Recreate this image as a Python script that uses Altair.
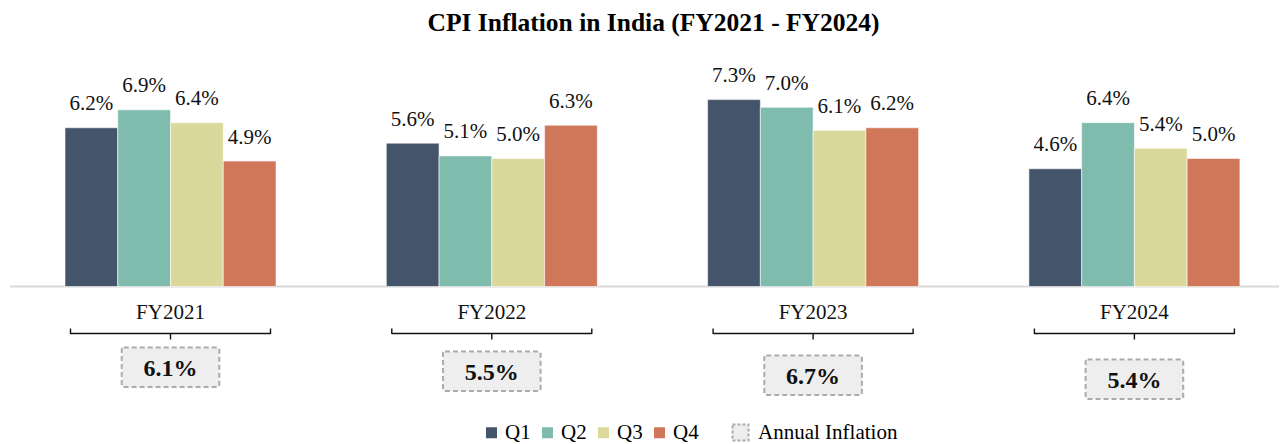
import altair as alt
import pandas as pd

# ---------------- data ----------------
fiscal_years = ["FY2021", "FY2022", "FY2023", "FY2024"]
quarters = ["Q1", "Q2", "Q3", "Q4"]
q1 = [6.2, 5.6, 7.3, 4.6]
q2 = [6.9, 5.1, 7.0, 6.4]
q3 = [6.4, 5.0, 6.1, 5.4]
q4 = [4.9, 6.3, 6.2, 5.0]
annual = [6.1, 5.5, 6.7, 5.4]
colors = ["#44546A", "#7FBCAE", "#DAD89B", "#D0775A"]

# ---------------- layout constants ----------------
FONT = "Liberation Serif"
W = 1271            # plot width
T = 48              # plot top (page px)
H = 360             # plot height
BASE = 286.5 - T    # baseline position inside plot (px)
PPU = 25.6          # px per percentage point
STEP = 321.3        # px between fiscal-year groups
FIRST = 170.5 - 8   # first group centre inside plot (px)
d0 = -FIRST / STEP
d1 = d0 + W / STEP
ymax = BASE / PPU
ymin = -(H - BASE) / PPU
BW = 52.75 / STEP   # bar width (x units)
HALF_BRACKET = 100 / STEP
HALF_BOX = 48.8 / STEP

rows = []
for i, fy in enumerate(fiscal_years):
    for j, (q, vals) in enumerate(zip(quarters, [q1, q2, q3, q4])):
        rows.append({"fy": fy, "i": i, "q": q, "j": j, "value": vals[i]})
bars_df = pd.DataFrame(rows)
ann_df = pd.DataFrame({"fy": fiscal_years, "i": list(range(len(fiscal_years))),
                       "annual": annual, "kind": ["Annual Inflation"] * len(annual)})

xs = alt.Scale(domain=[d0, d1], nice=False, zero=False)
ys = alt.Scale(domain=[ymin, ymax], nice=False, zero=False)

# ---------------- baseline ----------------
baseline = alt.Chart(ann_df.head(1)).mark_rule(color="#D9D9D9", strokeWidth=2).encode(
    x=alt.value(2), x2=alt.value(W + 8), y=alt.Y("z:Q", scale=ys, axis=None)
).transform_calculate(z="0")

# ---------------- bars ----------------
bar_base = alt.Chart(bars_df).transform_calculate(
    xc=f"datum.i + (datum.j - 1.5) * {BW}",
    xl=f"datum.i + (datum.j - 2) * {BW}",
    xr=f"datum.i + (datum.j - 1) * {BW}",
    zero="0",
    label="format(datum.value, '.1f') + '%'",
)

LEG_Y = 422 - T

bars = bar_base.mark_rect(stroke="#FFFFFF", strokeWidth=0.8, strokeOpacity=0.7).encode(
    x=alt.X("xl:Q", scale=xs, axis=None),
    x2="xr:Q",
    y=alt.Y("value:Q", scale=ys, axis=None),
    y2="zero:Q",
    color=alt.Color(
        "q:N",
        scale=alt.Scale(domain=quarters, range=colors),
        legend=alt.Legend(
            title=None, orient="none", direction="horizontal",
            legendX=473, legendY=LEG_Y, symbolType="square", symbolSize=121,
            symbolStrokeWidth=0, labelFont=FONT, labelFontSize=21, labelColor="#000000",
            labelOffset=3, columnPadding=6, padding=0,
        ),
    ),
)

bar_labels = bar_base.mark_text(
    font=FONT, fontSize=21, color="#111111", baseline="alphabetic", dy=-17.5
).encode(x=alt.X("xc:Q", scale=xs), y=alt.Y("value:Q", scale=ys), text="label:N")

# ---------------- annotations under the bars ----------------
ann_base = alt.Chart(ann_df).transform_calculate(
    bl=f"datum.i - {HALF_BRACKET}",
    br=f"datum.i + {HALF_BRACKET}",
    bx0=f"datum.i - {HALF_BOX}",
    bx1=f"datum.i + {HALF_BOX}",
    bt=f"-(61 + 4 * datum.i) / {PPU}",
    bb=f"-(61 + 4 * datum.i + 39.6) / {PPU}",
    tb=f"-(61 + 4 * datum.i + 28.5) / {PPU}",
    alabel="format(datum.annual, '.1f') + '%'",
)

fy_labels = ann_base.mark_text(
    font=FONT, fontSize=21, color="#111111", baseline="alphabetic"
).encode(x=alt.X("i:Q", scale=xs), y=alt.value(BASE + 32.5), text="fy:N")

bracket_h = ann_base.mark_rule(color="#111111", strokeWidth=1.4).encode(
    x=alt.X("bl:Q", scale=xs), x2="br:Q", y=alt.value(BASE + 47)
)
bracket_l = ann_base.mark_rule(color="#111111", strokeWidth=1.4).encode(
    x=alt.X("bl:Q", scale=xs), y=alt.value(BASE + 42), y2=alt.value(BASE + 47.6)
)
bracket_r = ann_base.mark_rule(color="#111111", strokeWidth=1.4).encode(
    x=alt.X("br:Q", scale=xs), y=alt.value(BASE + 42), y2=alt.value(BASE + 47.6)
)
bracket_c = ann_base.mark_rule(color="#111111", strokeWidth=1.4).encode(
    x=alt.X("i:Q", scale=xs), y=alt.value(BASE + 46.5), y2=alt.value(BASE + 53)
)

boxes = ann_base.mark_rect(
    fill="#EEEEEE", strokeDash=[5, 3], strokeWidth=2, cornerRadius=2
).encode(
    x=alt.X("bx0:Q", scale=xs), x2="bx1:Q",
    y=alt.Y("bt:Q", scale=ys), y2="bb:Q",
    stroke=alt.Stroke(
        "kind:N",
        scale=alt.Scale(domain=["Annual Inflation"], range=["#ABABAB"]),
        legend=alt.Legend(
            title=None, orient="none", direction="horizontal",
            legendX=722, legendY=LEG_Y, symbolType="square", symbolSize=256,
            symbolFillColor="#EEEEEE", symbolStrokeWidth=2, symbolDash=[3, 2],
            labelFont=FONT, labelFontSize=21, labelColor="#000000",
            labelOffset=7, padding=0,
        ),
    ),
)

box_text = ann_base.mark_text(
    font=FONT, fontSize=24, fontWeight="bold", color="#111111", baseline="alphabetic"
).encode(x=alt.X("i:Q", scale=xs), y=alt.Y("tb:Q", scale=ys), text="alabel:N")

chart = alt.layer(
    baseline, bars, bar_labels, fy_labels,
    bracket_h, bracket_l, bracket_r, bracket_c,
    boxes, box_text,
).resolve_scale(color="independent", stroke="independent").properties(
    width=W,
    height=H,
    title=alt.TitleParams(
        "CPI Inflation in India (FY2021 - FY2024)",
        font=FONT, fontSize=25.5, fontWeight="bold", color="#000000",
        anchor="middle", offset=12, dx=10,
    ),
    autosize=alt.AutoSizeParams(type="none"),
    padding={"top": T - 8, "left": 0, "right": 0, "bottom": 436 - (T - 8) - H},
).configure_view(stroke=None)

chart.save("out.html", embed_options={"renderer": "svg", "actions": False})
